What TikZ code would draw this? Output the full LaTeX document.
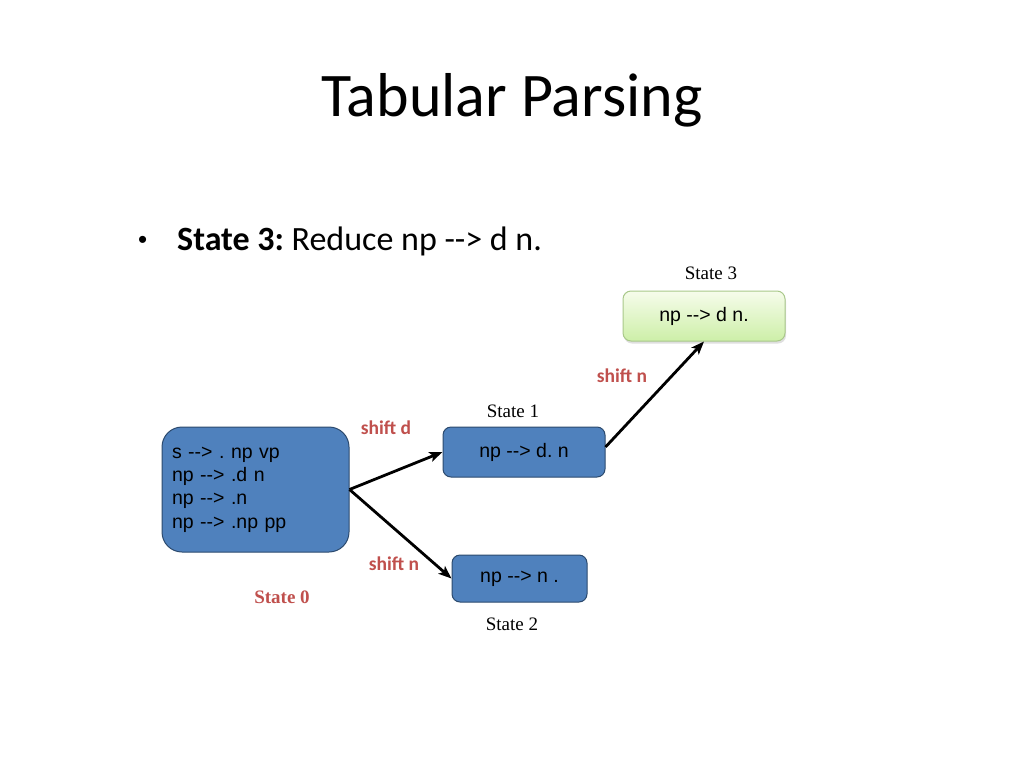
\documentclass[tikz,border=0pt]{standalone}
\usepackage{fontspec}
\setmainfont{Carlito}
\newfontfamily\boxfont{Liberation Sans}
\newfontfamily\serifont{Liberation Serif}
\usetikzlibrary{arrows.meta,shadows}
\definecolor{boxblue}{HTML}{4F81BD}
\definecolor{boxedge}{HTML}{2C4A6E}
\definecolor{labred}{HTML}{C0504D}
\definecolor{greentop}{HTML}{F6FCEB}
\definecolor{greenbot}{HTML}{CDEFA8}
\definecolor{greenedge}{HTML}{A9C88A}
\frenchspacing
\begin{document}
\begin{tikzpicture}[x=1pt,y=-1pt,
  bluebox/.style={draw=boxedge, line width=1pt, fill=boxblue, rounded corners=8pt,
    font=\boxfont\fontsize{19.5}{23.3}\selectfont, text=black, inner sep=0pt},
  greenbox/.style={draw=greenedge, line width=1pt, top color=greentop, bottom color=greenbot,
    rounded corners=8pt, font=\boxfont\fontsize{19.5}{23.3}\selectfont, text=black, inner sep=0pt,
    drop shadow={opacity=0.25, shadow xshift=1pt, shadow yshift=-2.5pt}},
  statelab/.style={font=\serifont\fontsize{19}{23}\selectfont, text=black},
  shiftlab/.style={font=\bfseries\fontsize{19.5}{23}\selectfont, text=labred},
  edge/.style={line width=2.8pt, -{Stealth[length=13pt,width=10pt,inset=3pt]}}]
\useasboundingbox (0,0) rectangle (1024,768);
\fill[white] (0,0) rectangle (1024,768);

\node[font=\fontsize{62}{74}\selectfont] (title) at (512,100) {Tabular Parsing};
\node[anchor=base west, font=\boxfont\fontsize{26}{30}\selectfont, inner sep=0pt] (bullet) at (138,248) {•};
\node[anchor=base west, font=\fontsize{34}{40}\selectfont, inner sep=0pt] (btext) at (177,250) {\textbf{State 3:} Reduce np -{}-{}> d n.};

\node[bluebox, rounded corners=20pt, minimum width=187pt, minimum height=125pt,
  text width=167pt, align=left] (s0) at (255.5,489.5)
  {s --> . np vp\\np --> .d n\\np --> .n\\np --> .np pp};
\node[bluebox, minimum width=162pt, minimum height=50pt] (s1) at (524,452) {\raisebox{-2pt}{np --> d. n}};
\node[bluebox, minimum width=135pt, minimum height=47pt] (s2) at (519.5,578.5) {\raisebox{-1pt}{np --> n .}};
\node[greenbox, minimum width=162pt, minimum height=50pt] (s3) at (704,316) {\raisebox{-1pt}{np --> d n.}};

\node[statelab] (l3) at (711,273) {State 3};
\node[statelab] (l1) at (513,411) {State 1};
\node[statelab] (l2) at (512,624) {State 2};
\node[font=\serifont\bfseries\fontsize{19}{23}\selectfont, text=labred] (l0) at (282,597) {State 0};

\node[shiftlab] (sd) at (386,428) {shift d};
\node[shiftlab] (sn1) at (622,376) {shift n};
\node[shiftlab] (sn2) at (394,564) {shift n};

\draw[edge] (s0.east) -- (s1.west);
\draw[edge] (s0.east) -- (s2.west);
\draw[edge] ([yshift=5pt]s1.east) -- (s3.south);
\end{tikzpicture}
\end{document}
